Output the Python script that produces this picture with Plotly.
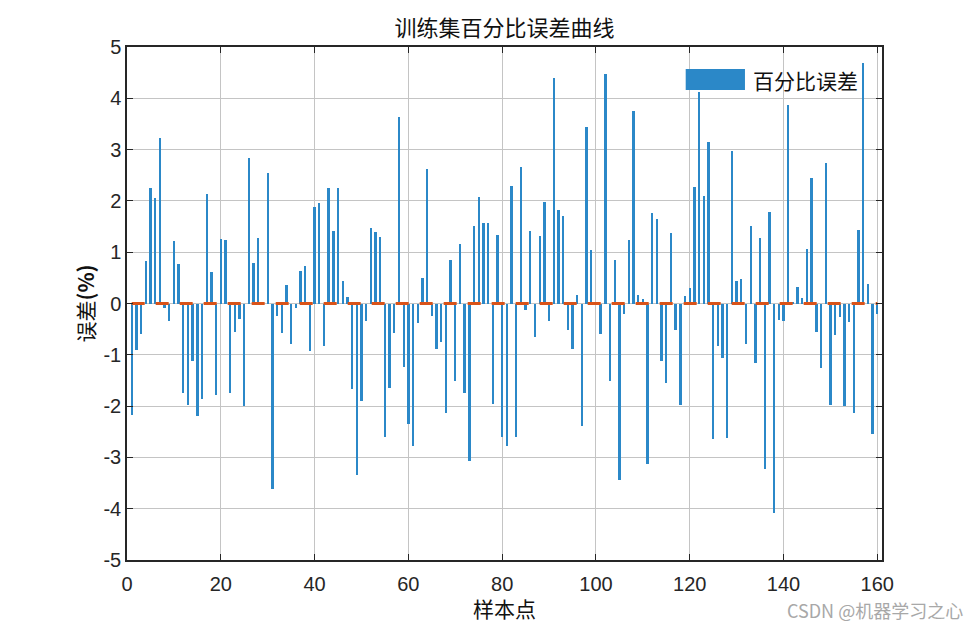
import plotly.graph_objects as go

# training set percentage error, one value per sample point
sample_idx = list(range(1, 161))
pct_error = [
    -2.17, -0.90, -0.59, 0.83, 2.25, 2.06, 3.22, -0.09, -0.34, 1.21,
    0.77, -1.75, -1.98, -1.12, -2.20, -1.87, 2.13, 0.62, -1.79, 1.26,
    1.23, -1.75, -0.55, -0.31, -2.00, 2.84, 0.79, 1.27, 0.02, 2.55,
    -3.62, -0.25, -0.58, 0.37, -0.78, -0.08, 0.63, 0.74, -0.93, 1.88,
    1.96, -0.83, 2.25, 1.42, 2.25, 0.43, 0.13, -1.67, -3.35, -1.90,
    -0.34, 1.47, 1.39, 1.29, -2.61, -1.65, -0.57, 3.63, -1.24, -2.34,
    -2.78, -0.38, 0.50, 2.63, -0.24, -0.88, -0.75, -2.13, 0.85, -1.52,
    1.16, -1.75, -3.07, 1.51, 2.07, 1.56, 1.56, -1.95, 1.33, -2.61,
    -2.78, 2.30, -2.61, 2.67, -0.13, 1.42, -0.65, 1.32, 1.98, -0.35,
    4.40, 1.83, 1.71, -0.52, -0.89, 0.17, -2.38, 3.45, 1.05, 0.02,
    -0.59, 4.48, -1.52, 0.84, -3.44, -0.20, 1.23, 3.76, 0.16, 0.08,
    -3.13, 1.77, 1.65, -1.13, -1.54, 1.38, -0.51, -1.98, 0.15, 0.30,
    2.27, 4.12, 2.09, 3.15, -2.65, -0.83, -1.06, -2.62, 2.97, 0.43,
    0.47, -0.78, 1.51, -1.15, 1.28, -3.22, 1.79, -4.08, -0.33, -0.35,
    3.86, 0.01, 0.33, 0.10, 1.07, 2.44, -0.55, -1.26, 2.73, -1.97,
    -0.62, -0.26, -2.00, -0.37, -2.13, 1.44, 4.68, 0.38, -2.54, -0.21,
]
# reference line at zero error
zero_ref = [0.0] * len(sample_idx)

x_ticks = [0, 20, 40, 60, 80, 100, 120, 140, 160]
y_ticks = [-5, -4, -3, -2, -1, 0, 1, 2, 3, 4, 5]
# MATLAB style labels, plain hyphen instead of plotly's minus sign
y_tick_text = ['-5', '-4', '-3', '-2', '-1', '0', '1', '2', '3', '4', '5']

BLUE = '#2b88c8'
ORANGE = '#d95319'
AXIS = '#262626'
CJK = 'Noto Sans CJK SC'
LATIN = 'Arial, Liberation Sans, sans-serif'

fig = go.Figure()
fig.add_trace(go.Bar(x=sample_idx, y=pct_error, width=0.5, name='百分比误差',
                     marker=dict(color=BLUE, line=dict(width=0)), showlegend=False))
fig.add_trace(go.Scatter(x=sample_idx, y=zero_ref, mode='lines', showlegend=False,
                         line=dict(color=ORANGE, width=3, dash='13px,11px')))

axis_common = dict(showline=True, linecolor=AXIS, linewidth=1.5, mirror='ticks',
                   ticks='inside', ticklen=6, tickcolor=AXIS, tickwidth=1,
                   showgrid=True, gridcolor='#c4c4c4', gridwidth=1, zeroline=False,
                   automargin=False,
                   tickfont=dict(family=LATIN, size=20, color=AXIS))

# page body has an 8px margin, so the figure is a bit smaller than the window
fig.update_layout(
    width=959, height=614,
    margin=dict(l=119, r=85, t=39, b=62),
    paper_bgcolor='white', plot_bgcolor='white',
    bargap=0,
    title=dict(text='训练集百分比误差曲线', xref='paper', x=0.5, xanchor='center',
               y=0.967, yanchor='middle',
               font=dict(family=CJK, size=22, color='#111111')),
    xaxis=dict(range=[0, 161], tickvals=x_ticks, ticklabelstandoff=5, **axis_common),
    yaxis=dict(range=[-5, 5], tickvals=y_ticks, ticktext=y_tick_text,
               title=dict(text='误差<b>(%)</b>', font=dict(family=CJK, size=21, color='#111111'), standoff=3),
               **axis_common),
)

# x axis title as an annotation so it can sit a little lower than plotly puts it
fig.add_annotation(text='样本点', xref='paper', yref='paper', x=0.5, y=-0.093,
                   xanchor='center', yanchor='middle', showarrow=False,
                   font=dict(family=CJK, size=21, color='#111111'))

# legend drawn by hand: wide patch + label, no box (like the MATLAB one)
fig.add_shape(type='rect', xref='paper', yref='paper', x0=0.740, x1=0.8185, y0=0.916, y1=0.957,
              fillcolor=BLUE, line=dict(width=0))
fig.add_annotation(text='百分比误差', xref='paper', yref='paper', x=0.826, y=0.9365,
                   xanchor='left', yanchor='middle', showarrow=False,
                   font=dict(family=CJK, size=21, color='#111111'))

# watermark bottom right
fig.add_annotation(text='CSDN @机器学习之心', xref='paper', yref='paper', x=1.11, y=-0.097,
                   xanchor='right', yanchor='middle', showarrow=False,
                   font=dict(family=CJK, size=18, color='#a8a8a8'))

fig.write_html("out.html")
